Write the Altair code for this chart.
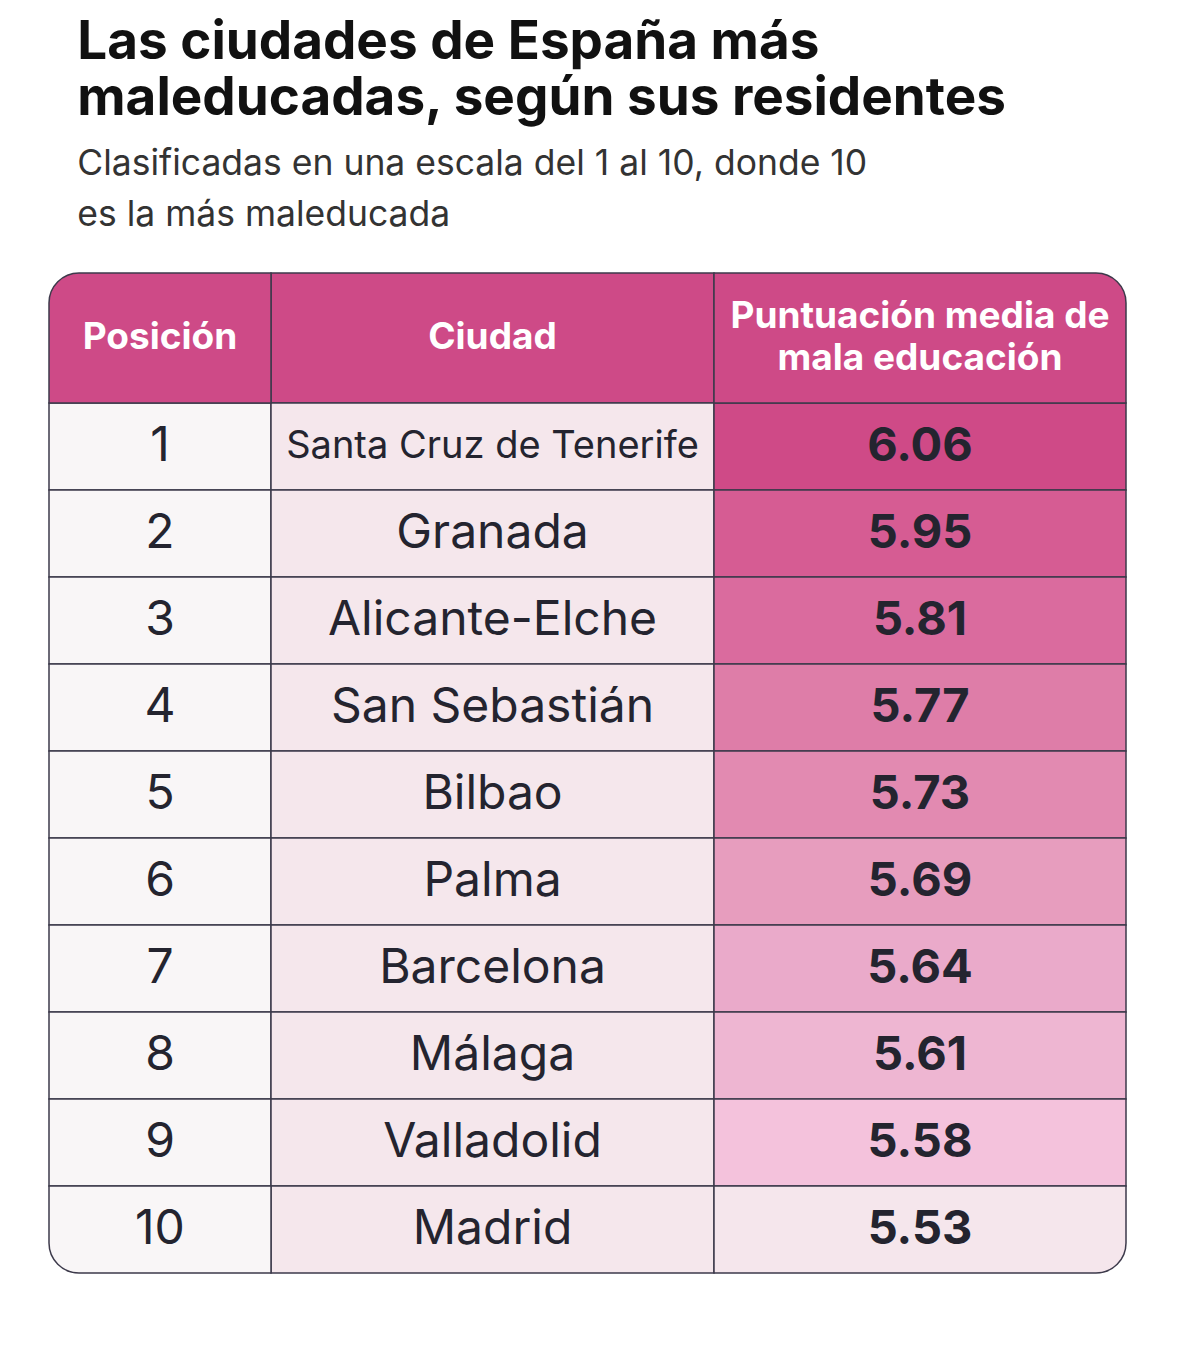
import altair as alt
import pandas as pd

# ---------------- data ----------------
positions = [1, 2, 3, 4, 5, 6, 7, 8, 9, 10]
cities = ["Santa Cruz de Tenerife", "Granada", "Alicante-Elche", "San Sebastián",
          "Bilbao", "Palma", "Barcelona", "Málaga", "Valladolid", "Madrid"]
scores = [6.06, 5.95, 5.81, 5.77, 5.73, 5.69, 5.64, 5.61, 5.58, 5.53]
headers = ["Posición", "Ciudad", "Puntuación media de\nmala educación"]
title_lines = ["Las ciudades de España más", "maleducadas, según sus residentes"]
subtitle_lines = ["Clasificadas en una escala del 1 al 10, donde 10", "es la más maleducada"]

# ---------------- style / layout ----------------
score_colors = ["#CF4A87", "#D65C93", "#DA6B9E", "#DE7DA8", "#E28AB1",
                "#E79DBE", "#EAAACA", "#EEB6D2", "#F4C2DC", "#F5E6EC"]
HEADER_FILL = "#CE4A87"
POS_FILL = "#F9F6F7"
CITY_FILL = "#F5E7EC"
BORDER = "#3d3a4b"
TEXT = "#24242f"
FONT = "Inter"

col_edges = [0, 222, 665, 1077]
HEADER_H = 130
ROW_H = 87
W = col_edges[-1]
H = HEADER_H + ROW_H * len(positions)

fill_domain = ["header", "pos", "city"] + [f"s{p}" for p in positions]
fill_range = [HEADER_FILL, POS_FILL, CITY_FILL] + score_colors

cells = []
corner_names = {0: "tl", 2: "tr"}
for c, h in enumerate(headers):
    cells.append(dict(x0=col_edges[c], x1=col_edges[c + 1], y0=0, y1=HEADER_H,
                      xc=(col_edges[c] + col_edges[c + 1]) / 2, yc=HEADER_H / 2,
                      key="header", corner=corner_names.get(c, ""),
                      kind="header2" if "\n" in h else "header",
                      label=h, fs=37))
n = len(positions)
for i, (p, city, s) in enumerate(zip(positions, cities, scores)):
    y0 = HEADER_H + i * ROW_H
    last = i == n - 1
    for c, (key, label, kind) in enumerate([("pos", str(p), "pos"),
                                             ("city", city, "city"),
                                             (f"s{p}", f"{s:.2f}", "score")]):
        corner = ""
        if last and c == 0:
            corner = "bl"
        if last and c == 2:
            corner = "br"
        fs = 48
        if kind == "city" and len(city) > 16:
            fs = 38
        if kind == "score":
            fs = 47
        cells.append(dict(x0=col_edges[c], x1=col_edges[c + 1], y0=y0, y1=y0 + ROW_H,
                          xc=(col_edges[c] + col_edges[c + 1]) / 2, yc=y0 + ROW_H / 2,
                          key=key, corner=corner, kind=kind, label=label, fs=fs))

df = pd.DataFrame(cells)

xs = alt.Scale(domain=[0, W], nice=False, zero=False)
ys = alt.Scale(domain=[0, H], nice=False, zero=False, reverse=True)
fill_scale = alt.Scale(domain=fill_domain, range=fill_range)

base = alt.Chart(df)

def rect_layer(corner_filter, **radius):
    return base.mark_rect(stroke=BORDER, strokeWidth=1.5, **radius).encode(
        x=alt.X("x0:Q", scale=xs, axis=None),
        x2="x1:Q",
        y=alt.Y("y0:Q", scale=ys, axis=None),
        y2="y1:Q",
        fill=alt.Fill("key:N", scale=fill_scale, legend=None),
    ).transform_filter(corner_filter)

R = 30
rects = [
    rect_layer("datum.corner == ''"),
    rect_layer("datum.corner == 'tl'", cornerRadiusTopLeft=R),
    rect_layer("datum.corner == 'tr'", cornerRadiusTopRight=R),
    rect_layer("datum.corner == 'bl'", cornerRadiusBottomLeft=R),
    rect_layer("datum.corner == 'br'", cornerRadiusBottomRight=R),
]

def text_layer(kind_filter, color, weight, line_height=None):
    kw = dict(align="center", baseline="middle", font=FONT, fontWeight=weight, color=color)
    if line_height:
        kw["lineBreak"] = "\n"
        kw["lineHeight"] = line_height
        kw["dy"] = -line_height / 2
    return base.mark_text(**kw).encode(
        x=alt.X("xc:Q", scale=xs, axis=None),
        y=alt.Y("yc:Q", scale=ys, axis=None),
        text="label:N",
        size=alt.Size("fs:Q", scale=None),
    ).transform_filter(kind_filter)

texts = [
    text_layer("datum.kind == 'header'", "#ffffff", "bold"),
    text_layer("datum.kind == 'header2'", "#ffffff", "bold", line_height=42),
    text_layer("datum.kind == 'pos' || datum.kind == 'city'", TEXT, "normal"),
    text_layer("datum.kind == 'score'", TEXT, "bold"),
]

chart = alt.layer(*rects, *texts).properties(
    width=W,
    height=H,
    padding={"left": 40, "top": 8, "right": 60, "bottom": 60},
    title=alt.TitleParams(
        text=title_lines,
        subtitle=subtitle_lines,
        anchor="start",
        dx=29,
        font=FONT,
        fontSize=53,
        fontWeight=700,
        lineHeight=56,
        color="#111111",
        subtitleFont=FONT,
        subtitleFontSize=35.5,
        subtitleLineHeight=51,
        subtitleColor="#333333",
        subtitlePadding=21,
        offset=39,
    ),
).configure(background="#ffffff").configure_view(stroke="transparent", strokeWidth=0)

chart.save("out.html", embed_options={"renderer": "svg", "actions": False})
